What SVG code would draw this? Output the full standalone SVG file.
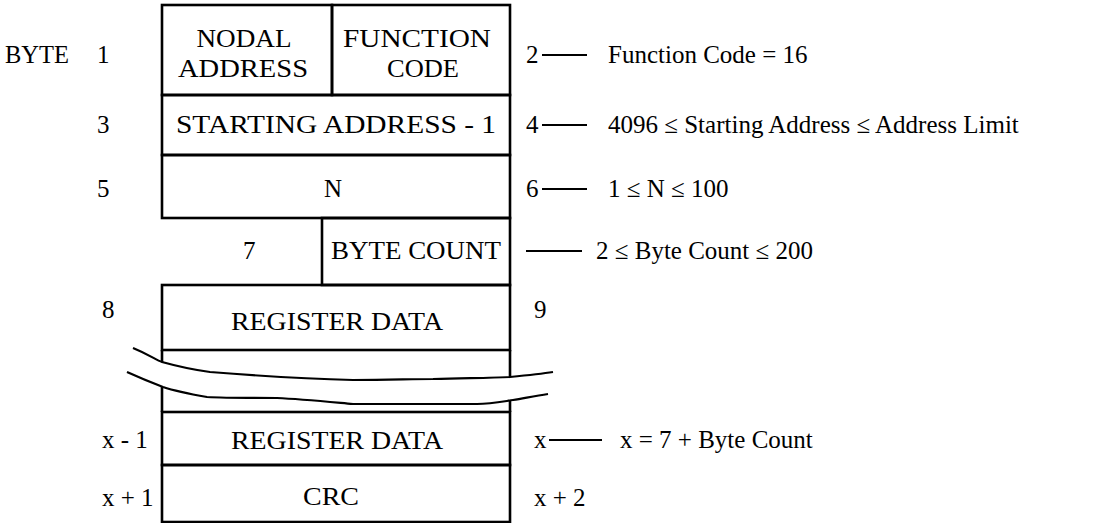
<svg xmlns="http://www.w3.org/2000/svg" width="1116" height="523" viewBox="0 0 1116 523">
<style>
.t{font-family:"Liberation Serif","Times New Roman",serif;font-size:25px;fill:#000}
.m{text-anchor:middle}
.box{fill:none;stroke:#000;stroke-width:2.6}
.ln{stroke:#000;stroke-width:1.8;fill:none}
.wave{fill:none;stroke:#000;stroke-width:2.2}
</style>
<rect x="0" y="0" width="1116" height="523" fill="#fff"/>

<g id="labels-left">
<text class="t" x="5" y="63" textLength="64" lengthAdjust="spacingAndGlyphs">BYTE</text>
<text class="t" x="97" y="63">1</text>
<text class="t" x="97" y="133">3</text>
<text class="t" x="97" y="197">5</text>
<text class="t" x="243" y="259">7</text>
<text class="t" x="102" y="318">8</text>
<text class="t" x="102" y="448">x - 1</text>
<text class="t" x="102" y="506">x + 1</text>
</g>

<g id="node-nodal-address">
<rect class="box" x="162" y="5" width="170" height="90"/>
<text class="t m" x="244" y="47" textLength="95" lengthAdjust="spacingAndGlyphs">NODAL</text>
<text class="t m" x="243" y="77" textLength="130" lengthAdjust="spacingAndGlyphs">ADDRESS</text>
</g>
<g id="node-function-code">
<rect class="box" x="332" y="5" width="178" height="90"/>
<text class="t m" x="417" y="47" textLength="148" lengthAdjust="spacingAndGlyphs">FUNCTION</text>
<text class="t m" x="423" y="77" textLength="72" lengthAdjust="spacingAndGlyphs">CODE</text>
</g>
<g id="node-starting-address">
<rect class="box" x="162" y="95" width="348" height="60"/>
<text class="t m" x="336" y="133" textLength="320" lengthAdjust="spacingAndGlyphs">STARTING ADDRESS - 1</text>
</g>
<g id="node-n">
<rect class="box" x="162" y="155" width="348" height="63"/>
<text class="t m" x="333" y="197">N</text>
</g>
<g id="node-byte-count">
<rect class="box" x="322" y="218" width="188" height="67"/>
<text class="t m" x="416" y="259" textLength="170" lengthAdjust="spacingAndGlyphs">BYTE COUNT</text>
</g>
<g id="node-register-data-1">
<rect class="box" x="162" y="285" width="348" height="65"/>
<text class="t m" x="337" y="330" textLength="212" lengthAdjust="spacingAndGlyphs">REGISTER DATA</text>
</g>
<g id="node-gap">
<line class="box" x1="162" y1="350" x2="162" y2="412"/>
<line class="box" x1="510" y1="350" x2="510" y2="412"/>
</g>
<g id="node-register-data-2">
<rect class="box" x="162" y="412" width="348" height="53"/>
<text class="t m" x="337" y="449" textLength="212" lengthAdjust="spacingAndGlyphs">REGISTER DATA</text>
</g>
<g id="node-crc">
<rect class="box" x="162" y="465" width="348" height="57"/>
<text class="t m" x="331" y="505" textLength="56" lengthAdjust="spacingAndGlyphs">CRC</text>
</g>

<g id="break">
<path d="M133,348 C150,355 156,360 162,362 C180,367 195,370 210,372 C260,376 310,379 353,380 C390,380 410,379 433,379 C470,378 490,378 510,377 C530,375 540,374 553,372 L548,394 C535,396 525,398 513,400 C500,402 490,404 477,404 C430,404 390,404 353,404 C320,401 300,399 277,398 C250,398 225,398 207,397 C190,394 175,391 163,387 C150,382 138,377 127,372 Z" fill="#fff" stroke="none"/>
<path class="wave" d="M133,348 C150,355 156,360 162,362 C180,367 195,370 210,372 C260,376 310,379 353,380 C390,380 410,379 433,379 C470,378 490,378 510,377 C530,375 540,374 553,372"/>
<path class="wave" d="M127,372 C138,377 150,382 163,387 C175,391 190,394 207,397 C225,398 250,398 277,398 C300,399 320,401 353,404 C390,404 430,404 477,404 C490,404 500,402 513,400 C525,398 535,396 548,394"/>
</g>

<g id="connectors">
<line class="ln" x1="542" y1="55" x2="587" y2="55"/>
<line class="ln" x1="542" y1="125" x2="587" y2="125"/>
<line class="ln" x1="542" y1="189" x2="587" y2="189"/>
<line class="ln" x1="526" y1="251" x2="582" y2="251"/>
<line class="ln" x1="549" y1="440" x2="602" y2="440"/>
</g>

<g id="labels-right">
<text class="t" x="526" y="63">2</text>
<text class="t" x="608" y="63">Function Code = 16</text>
<text class="t" x="526" y="133">4</text>
<text class="t" x="608" y="133">4096 ≤ Starting Address ≤ Address Limit</text>
<text class="t" x="526" y="197">6</text>
<text class="t" x="608" y="197">1 ≤ N ≤ 100</text>
<text class="t" x="596" y="259">2 ≤ Byte Count ≤ 200</text>
<text class="t" x="534" y="318">9</text>
<text class="t" x="534" y="448">x</text>
<text class="t" x="620" y="448">x = 7 + Byte Count</text>
<text class="t" x="534" y="506">x + 2</text>
</g>
</svg>
